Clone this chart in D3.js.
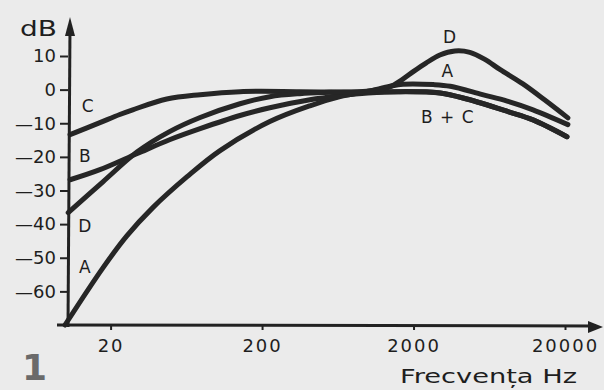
<!DOCTYPE html>
<html>
<head>
<meta charset="utf-8">
<script src="https://cdn.jsdelivr.net/npm/d3@7"></script>
<style>
  html, body { margin: 0; padding: 0; background: #ebebeb; }
  svg { display: block; }
  text { font-family: "DejaVu Sans", "Liberation Sans", Arial, sans-serif; fill: #1e1e1e; }
</style>
</head>
<body>
<svg width="604" height="390"></svg>
<script>
// frequency (Hz), level (dB)
var curveA = [[10,-70],[17.8,-53.0],[25.6,-43.5],[38,-35.1],[64,-25.9],[105,-18.2],[225,-9.5],[414,-4.8],
  [655,-2.1],[1000,-0.5],[1400,1.0],[1700,1.6],[2700,1.5],[3500,1.0],[5700,-1.5],[8300,-3.4],[12300,-6.0],[20900,-10.4]];
var curveB = [[10.8,-26.8],[17,-23.8],[30,-19.0],[49,-14.9],[78,-11.6],[143,-7.7],[225,-5.4],[414,-3.0],
  [655,-1.8],[1000,-1.0],[1600,-0.6],[3000,-1.0],[4500,-2.8],[8500,-6.6],[12300,-9.0],[20600,-14.0]];
var curveC = [[10.8,-13.4],[17,-9.8],[23,-7.4],[28,-6.0],[47,-2.8],[78,-1.5],[143,-0.6],[355,-0.6],
  [1000,-0.8],[1600,-0.6],[3000,-1.0],[4500,-2.8],[8500,-6.6],[12300,-9.0],[20600,-14.0]];
var curveD = [[10.5,-36.6],[17.8,-27.4],[30,-18.5],[49,-12.5],[78,-8.3],[143,-4.2],[225,-2.1],[355,-1.2],
  [560,-0.8],[985,-0.5],[1396,0.8],[1675,2.9],[2013,5.5],[2416,7.9],[2985,10.3],[3750,11.5],[4710,11.1],
  [5920,9.0],[7430,6.0],[10550,1.7],[14720,-3.1],[20900,-8.4]];

var yTicks = [10, 0, -10, -20, -30, -40, -50, -60];
var xTicks = [20, 200, 2000, 20000];

var curves = [curveA, curveB, curveC, curveD];
// label text, frequency, dB (baseline of the hand lettering)
var curveLabels = [
  ["C", 14.2, -6.7], ["B", 13.6, -21.5], ["D", 13.6, -42.3], ["A", 13.6, -54.5],
  ["D", 3480, 13.9], ["A", 3370, 3.7], ["B + C", 3370, -9.9]
];

var svg = d3.select("svg");

svg.append("rect").attr("width", 604).attr("height", 390).attr("fill", "#ebebeb");

var x = d3.scaleLog().domain([10, 20000]).range([65, 565]);
var y = d3.scaleLinear().domain([-70, 10]).range([325, 56]);

// curves
var line = d3.line()
  .x(function (d) { return x(d[0]); })
  .y(function (d) { return y(d[1]); })
  .curve(d3.curveCatmullRom.alpha(0.5));

svg.append("g").selectAll("path")
  .data(curves)
  .enter().append("path")
  .attr("d", line)
  .attr("fill", "none")
  .attr("stroke", "#262626")
  .attr("stroke-width", 5)
  .attr("stroke-linecap", "round");

// axes
var yAxis = svg.append("g")
  .attr("transform", "translate(68,0)")
  .call(d3.axisLeft(y).tickValues(yTicks).tickSize(8).tickPadding(4)
    .tickFormat(function (d) { return d < 0 ? "\u2014" + Math.abs(d) : d; }));
yAxis.select(".domain").remove();
yAxis.selectAll("line").attr("stroke", "#222").attr("stroke-width", 2);
yAxis.selectAll("text").attr("font-size", 18).attr("fill", "#1e1e1e")
  .attr("font-family", "\"DejaVu Sans\", sans-serif");

var xAxis = svg.append("g")
  .attr("transform", "translate(0," + y(-70) + ")")
  .call(d3.axisBottom(x).tickValues(xTicks).tickSize(5).tickPadding(9).tickFormat(d3.format("d")));
xAxis.select(".domain").remove();
xAxis.selectAll("line").attr("stroke", "#222").attr("stroke-width", 2);
xAxis.selectAll("text").attr("font-size", 18).attr("fill", "#1e1e1e").attr("letter-spacing", 2)
  .attr("font-family", "\"DejaVu Sans\", sans-serif");

// axis lines with arrows
svg.append("line").attr("x1", 68).attr("y1", y(-70) + 2).attr("x2", 70).attr("y2", 26)
  .attr("stroke", "#222").attr("stroke-width", 3);
svg.append("path").attr("d", "M70,17 L65,36 L75,36 Z").attr("fill", "#222");
svg.append("line").attr("x1", 57).attr("y1", y(-70)).attr("x2", 596).attr("y2", y(-70) + 1)
  .attr("stroke", "#222").attr("stroke-width", 3);
svg.append("path").attr("d", "M603,327 L588,321 L588,333 Z").attr("fill", "#222");

// labels
svg.append("g").selectAll("text")
  .data(curveLabels)
  .enter().append("text")
  .attr("x", function (d) { return x(d[1]); })
  .attr("y", function (d) { return y(d[2]); })
  .attr("text-anchor", "middle")
  .attr("font-size", 17)
  .attr("letter-spacing", 1)
  .text(function (d) { return d[0]; });

svg.append("text").attr("x", 20).attr("y", 36).attr("font-size", 21)
  .attr("textLength", 37).attr("lengthAdjust", "spacingAndGlyphs").text("dB");
svg.append("text").attr("x", 400).attr("y", 383).attr("font-size", 20)
  .attr("textLength", 177).attr("lengthAdjust", "spacingAndGlyphs").text("Frecvența Hz");
svg.append("text").attr("x", 22).attr("y", 380).attr("font-size", 36).attr("font-weight", "bold")
  .style("fill", "#6a6a6a").text("1");
</script>
</body>
</html>
